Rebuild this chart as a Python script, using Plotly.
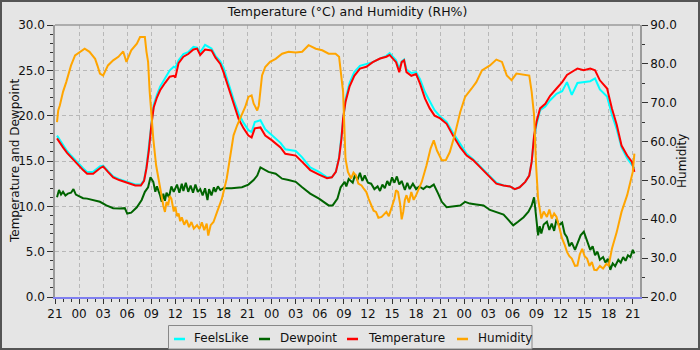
import pandas as pd
import plotly.graph_objects as go

# Observation period starts at 21:00; times are hours since then
start = pd.Timestamp("2021-06-20 21:00")

temp_hours = [0.25, 0.6, 1, 1.5, 2, 2.5, 3, 3.5, 4, 4.75,
              5.6, 6, 6.6, 7.25, 8, 9, 10, 10.7, 11.1, 11.4,
              11.7, 12, 12.3, 12.7, 13.1, 13.7, 14.3, 14.8, 15, 15.4,
              16, 16.6, 17.25, 17.7, 18.1, 18.7, 19.5, 20, 20.6, 21,
              21.6, 22.25, 22.9, 23.5, 24.1, 24.5, 24.9, 25.6, 26.2, 27,
              28.1, 28.7, 30, 30.8, 31.8, 32.9, 33.9, 34.5, 35, 35.4,
              35.7, 35.9, 36.2, 36.7, 37.3, 38, 38.8, 39.6, 40.5, 41.3,
              41.7, 42.1, 42.5, 42.9, 43.2, 43.5, 43.8, 44.4, 45, 45.5,
              46.1, 46.7, 47.3, 48, 48.8, 49.6, 50.5, 51.3, 52.1, 53,
              53.8, 54.2, 55, 55.9, 56.7, 57.3, 57.9, 58.6, 59.1, 59.4,
              59.7, 60, 60.45, 61.1, 61.7, 62.5, 63.2, 63.8, 64.4, 65.1,
              65.9, 66.7, 67.3, 67.9, 68.8, 69.4, 70, 70.6, 71.3, 71.9,
              72.2]

temperature = [17.5, 17.0, 16.5, 15.9, 15.4, 14.9, 14.5, 14.0, 13.6, 13.6,
               14.2, 14.4, 13.8, 13.2, 12.9, 12.6, 12.3, 12.3, 12.8, 14.2,
               16.2, 18.9, 20.9, 22.0, 22.8, 23.6, 24.3, 24.4, 24.2, 25.8,
               26.5, 26.8, 27.3, 27.4, 26.7, 27.3, 27.2, 26.4, 25.7, 24.8,
               23.1, 21.2, 19.6, 18.6, 17.8, 17.6, 18.6, 18.7, 17.8, 17.3,
               16.5, 15.8, 15.6, 14.9, 14.0, 13.5, 13.1, 13.2, 13.8, 15.3,
               17.5, 19.7, 21.5, 23.2, 24.4, 25.2, 25.4, 25.9, 26.3, 26.5,
               26.7, 26.3, 25.9, 24.8, 25.9, 26.1, 24.8, 24.4, 24.6, 23.5,
               21.9, 20.8, 20.0, 19.7, 19.1, 17.8, 16.5, 15.6, 15.1, 14.3,
               13.6, 13.2, 12.5, 12.3, 12.2, 11.9, 12.1, 12.7, 13.4, 14.9,
               17.8, 19.3, 20.8, 21.3, 22.2, 23.0, 23.7, 24.5, 24.8, 25.2,
               25.0, 25.2, 25.0, 23.9, 23.0, 20.8, 19.0, 16.7, 15.6, 14.9,
               13.8]

feels_like = [17.8, 17.3, 16.8, 16.1, 15.6, 15.1, 14.7, 14.2, 13.8, 13.8,
              14.4, 14.5, 13.9, 13.3, 13.0, 12.7, 12.4, 12.4, 12.9, 14.4,
              16.5, 19.2, 21.2, 22.3, 23.2, 24.1, 25.0, 25.4, 25.3, 26.1,
              26.8, 27.0, 27.6, 27.5, 27.0, 27.8, 27.4, 26.6, 26.0, 25.3,
              23.6, 21.8, 20.2, 19.2, 18.4, 18.2, 19.3, 19.5, 18.5, 17.9,
              17.0, 16.3, 16.1, 15.4, 14.3, 13.8, 13.2, 13.2, 13.8, 15.4,
              17.8, 20.0, 21.8, 23.6, 24.8, 25.5, 25.7, 25.9, 26.3, 26.6,
              26.9, 26.5, 26.1, 25.2, 26.0, 26.2, 25.1, 24.7, 24.8, 24.0,
              22.6, 21.6, 20.6, 19.9, 19.3, 18.1, 16.8, 15.8, 15.2, 14.4,
              13.7, 13.3, 12.6, 12.3, 12.2, 11.9, 12.1, 12.7, 13.4, 14.9,
              17.6, 19.0, 20.6, 21.0, 21.7, 22.4, 22.7, 23.7, 22.3, 23.6,
              23.7, 23.8, 24.1, 22.9, 22.1, 20.1, 18.5, 16.5, 15.3, 14.6,
              14.2]

dew_hours = [0.25, 0.5, 0.75, 1, 1.3, 1.6, 2, 2.3, 2.6, 3,
             3.5, 4, 4.75, 5.6, 6.4, 7.25, 8.1, 8.7, 9, 9.5,
             10.2, 10.8, 11.2, 11.6, 11.9, 12.25, 12.5, 12.7, 13.1, 13.3,
             13.5, 13.7, 13.9, 14.2, 14.5, 14.8, 15.2, 15.5, 15.8, 16,
             16.3, 16.6, 16.9, 17.2, 17.5, 17.8, 18.1, 18.4, 18.7, 19,
             19.2, 19.5, 19.8, 20, 20.3, 20.6, 21, 22, 23.3, 24.1,
             24.75, 25.2, 25.6, 26, 26.6, 27.5, 28.3, 29.1, 30, 30.8,
             31.8, 32.9, 33.7, 34.1, 34.6, 35.2, 35.6, 36.1, 36.3, 36.6,
             37.1, 37.4, 37.7, 38, 38.3, 38.6, 39, 39.4, 39.8, 40.2,
             40.5, 40.8, 41.1, 41.4, 41.7, 42, 42.3, 42.6, 42.9, 43.2,
             43.6, 43.9, 44.2, 44.6, 45, 45.4, 45.9, 46.3, 46.7, 47.2,
             47.75, 48.2, 48.8, 49.6, 50.5, 51.1, 51.7, 52.5, 53.4, 54.2,
             55, 55.9, 56.5, 57.1, 57.7, 58.4, 59, 59.4, 59.7, 59.95,
             60.2, 60.4, 60.6, 60.9, 61.3, 61.6, 61.9, 62.2, 62.5, 62.8,
             63.2, 63.5, 63.8, 64.1, 64.4, 64.8, 65.1, 65.5, 65.9, 66.3,
             66.7, 67, 67.3, 67.6, 67.9, 68.3, 68.6, 68.9, 69.2, 69.5,
             69.8, 70.2, 70.5, 70.8, 71.1, 71.4, 71.7, 72, 72.2]

dewpoint = [11.0, 11.8, 11.3, 11.6, 11.2, 11.4, 11.5, 11.9, 11.3, 11.1,
            10.9, 10.85, 10.7, 10.5, 10.1, 9.8, 9.75, 9.8, 9.2, 9.3,
            9.9, 10.7, 11.6, 12.1, 13.2, 12.7, 11.6, 12.2, 11.2, 10.5,
            11.4, 10.6, 11.5, 11.0, 12.2, 11.6, 12.4, 11.5, 12.5, 11.7,
            12.6, 11.6, 12.3, 11.5, 12.4, 11.6, 11.9, 11.2, 12.0, 10.7,
            11.9, 11.2, 12.1, 11.6, 12.2, 11.8, 12.0, 12.0, 12.1, 12.4,
            12.9, 13.4, 14.3, 14.1, 13.8, 13.6, 13.05, 12.9, 12.7, 12.1,
            11.4, 10.85, 10.3, 10.1, 10.1, 10.85, 12.1, 12.7, 12.2, 13.0,
            12.6, 13.5, 12.9, 13.7, 12.8, 13.4, 12.6, 12.5, 11.9, 12.2,
            11.7, 12.4, 12.0, 12.8, 12.3, 13.2, 12.6, 13.3, 12.4, 12.8,
            11.8, 12.6, 11.9, 12.5, 11.9, 12.2, 11.9, 12.2, 12.1, 12.4,
            11.4, 10.5, 9.9, 10.0, 10.1, 10.5, 10.3, 10.2, 10.1, 9.6,
            9.4, 9.1, 8.5, 7.9, 8.3, 8.8, 9.4, 10.1, 11.0, 9.0,
            6.8, 7.8, 7.0, 8.0, 8.3, 7.4, 8.1, 7.3, 8.6, 7.9,
            8.2, 7.0, 6.6, 5.6, 6.0, 5.2, 5.8, 6.8, 7.2, 6.3,
            5.2, 5.6, 4.6, 5.0, 4.1, 4.4, 3.8, 4.2, 3.0, 3.7,
            3.4, 4.1, 3.8, 4.4, 4.0, 4.6, 4.4, 5.2, 4.8]

hum_hours = [0.25, 0.4, 0.6, 0.8, 1, 1.4, 1.7, 2, 2.5, 3.1,
             3.7, 4.3, 5, 5.3, 5.6, 6, 6.6, 7.25, 7.9, 8.5,
             8.9, 9.5, 10.2, 10.6, 11.2, 11.4, 11.6, 11.8, 12.05, 12.25,
             12.6, 12.9, 13.1, 13.3, 13.5, 13.7, 13.9, 14.1, 14.3, 14.5,
             14.8, 15, 15.2, 15.4, 15.6, 15.8, 16.1, 16.4, 16.7, 17,
             17.3, 17.7, 18, 18.3, 18.6, 18.9, 19.1, 19.4, 19.75, 20.2,
             20.8, 21.4, 21.8, 22.25, 22.7, 23.3, 23.7, 24.1, 24.5, 24.75,
             25.2, 25.4, 25.8, 26.2, 26.8, 27.5, 28.3, 29.1, 30, 30.8,
             31.6, 32.5, 33.3, 34.1, 34.96, 35.4, 35.7, 35.9, 36.05, 36.2,
             36.5, 36.9, 37.2, 37.5, 37.8, 38.2, 38.5, 38.8, 39.1, 39.4,
             39.7, 40, 40.3, 40.7, 41, 41.3, 41.6, 41.9, 42.1, 42.3,
             42.5, 42.75, 43, 43.2, 43.4, 43.6, 43.8, 44.1, 44.4, 44.7,
             45, 45.3, 45.7, 46.3, 46.8, 47.2, 47.6, 48.2, 48.7, 49.2,
             49.8, 50.5, 51.1, 51.9, 52.5, 53.2, 53.8, 54.2, 55, 55.7,
             56.3, 56.9, 57.5, 58.4, 59.1, 59.4, 59.7, 59.95, 60.2, 60.6,
             60.9, 61.3, 61.6, 61.9, 62.2, 62.5, 62.8, 63.2, 63.5, 63.8,
             64.1, 64.4, 64.8, 65.1, 65.4, 65.7, 66, 66.3, 66.6, 66.9,
             67.2, 67.5, 67.9, 68.3, 68.7, 69, 69.4, 70, 70.6, 71.3,
             71.7, 72, 72.2]

humidity = [65.0, 68.0, 69.3, 71.0, 72.8, 75.3, 77.5, 79.6, 82.2, 83.1,
            83.9, 83.1, 81.3, 79.5, 77.5, 77.0, 79.6, 80.9, 81.8, 83.2,
            80.5, 83.5, 85.2, 86.9, 86.9, 83.1, 80.5, 72.8, 65.9, 60.7,
            53.9, 50.5, 47.5, 46.2, 43.5, 41.9, 44.5, 43.6, 46.0, 45.3,
            42.0, 43.2, 40.8, 41.5, 39.5, 40.5, 38.6, 39.8, 38.0, 39.3,
            37.6, 38.5, 37.5, 39.2, 37.2, 38.9, 35.8, 38.5, 39.3, 41.9,
            45.3, 50.5, 55.6, 61.6, 64.2, 66.8, 68.9, 71.5, 71.9, 69.8,
            68.0, 69.3, 77.0, 79.2, 80.5, 81.3, 82.6, 83.1, 82.9, 83.1,
            84.8, 83.9, 83.5, 82.6, 82.6, 81.8, 77.0, 72.8, 64.2, 55.6,
            52.2, 50.5, 52.0, 51.3, 49.2, 48.7, 47.8, 47.0, 45.2, 43.6,
            42.2, 41.9, 40.4, 40.6, 41.2, 41.9, 40.8, 42.7, 44.0, 45.3,
            47.5, 47.0, 44.0, 40.0, 41.9, 45.0, 46.2, 44.3, 47.0, 45.0,
            46.2, 47.5, 49.6, 53.9, 58.2, 60.3, 57.7, 55.2, 55.2, 57.3,
            61.6, 67.6, 71.5, 73.6, 75.3, 78.3, 79.2, 79.6, 81.1, 80.5,
            77.0, 75.8, 77.5, 77.2, 77.0, 72.8, 66.8, 53.9, 45.3, 40.2,
            42.0, 40.6, 42.5, 40.2, 41.5, 40.6, 38.0, 35.0, 33.5, 31.6,
            30.5, 29.9, 28.0, 28.1, 31.0, 32.4, 30.5, 29.9, 28.0, 29.0,
            27.0, 26.9, 28.0, 27.3, 28.5, 28.1, 32.4, 36.7, 41.9, 46.2,
            49.6, 52.2, 56.9]

series_names = ["FeelsLike", "Dewpoint", "Temperature", "Humidity"]
series_colors = ["#00ffff", "#006400", "#ff0000", "#ffa500"]

x_end_hours = 72.9


def to_time(hours):
    return [start + pd.Timedelta(hours=h) for h in hours]


FONT = "DejaVu Sans"
BG = "#e5e5e5"
LW = 2
GRID = dict(showgrid=True, gridcolor="#b8b8b8", griddash="4px,3px", gridwidth=1)

fig = go.Figure()
fig.add_trace(go.Scatter(x=to_time(temp_hours), y=feels_like, name=series_names[0],
                         mode="lines", line=dict(color=series_colors[0], width=LW)))
fig.add_trace(go.Scatter(x=to_time(dew_hours), y=dewpoint, name=series_names[1],
                         mode="lines", line=dict(color=series_colors[1], width=LW)))
fig.add_trace(go.Scatter(x=to_time(temp_hours), y=temperature, name=series_names[2],
                         mode="lines", line=dict(color=series_colors[2], width=LW)))
fig.add_trace(go.Scatter(x=to_time(hum_hours), y=humidity, name=series_names[3],
                         mode="lines", line=dict(color=series_colors[3], width=LW),
                         yaxis="y2"))

# plot-area geometry in pixels
L, R, T, B = 55, 60, 25, 53
W, H = 700, 350
PW, PH = W - L - R, H - T - B


def px_x(px):
    return (px - L) / PW


def px_y(py):
    return (H - B - py) / PH


shapes = [
    # top spine
    dict(type="line", xref="paper", yref="paper", x0=0, x1=1, y0=1, y1=1,
         line=dict(color="#9a9a9a", width=1.5)),
    # outer frame
    dict(type="rect", xref="paper", yref="paper",
         x0=px_x(1), x1=px_x(699), y0=px_y(349), y1=px_y(1),
         line=dict(color="#555555", width=2)),
    # legend box
    dict(type="rect", xref="paper", yref="paper",
         x0=px_x(168.5), x1=px_x(532), y0=px_y(349), y1=px_y(325.5),
         line=dict(color="#888888", width=1), fillcolor=BG),
]

annotations = []
legend_sample_x = [174, 259, 347, 457]
legend_text_x = [192, 278, 366, 476]
for name, color, sx, tx in zip(series_names, series_colors, legend_sample_x, legend_text_x):
    shapes.append(dict(type="line", xref="paper", yref="paper",
                       x0=px_x(sx), x1=px_x(sx + 11), y0=px_y(339), y1=px_y(339),
                       line=dict(color=color, width=2.5)))
    annotations.append(dict(text=name, xref="paper", yref="paper",
                            x=px_x(tx), y=px_y(338), xanchor="left", yanchor="middle",
                            showarrow=False, font=dict(family=FONT, size=12, color="#111")))

# axis titles placed by pixel position
annotations.append(dict(text="Temperature and Dewpoint", xref="paper", yref="paper",
                        x=px_x(15), y=0.5, xanchor="center", yanchor="middle", textangle=-90,
                        showarrow=False, font=dict(family=FONT, size=12, color="#111")))
annotations.append(dict(text="Humidity", xref="paper", yref="paper",
                        x=px_x(682), y=0.5, xanchor="center", yanchor="middle", textangle=-90,
                        showarrow=False, font=dict(family=FONT, size=12, color="#111")))

fig.update_layout(
    width=W, height=H,
    margin=dict(l=L, r=R, t=T, b=B, autoexpand=False),
    paper_bgcolor=BG, plot_bgcolor=BG,
    showlegend=False,
    font=dict(family=FONT, size=12, color="#111"),
    title=dict(text="Temperature (°C) and Humidity (RH%)", x=0.5, xref="paper",
               y=1 - 12 / H, yanchor="middle", font=dict(family=FONT, size=12.5, color="#111")),
    xaxis=dict(
        type="date", automargin=False,
        range=[start, start + pd.Timedelta(hours=x_end_hours)],
        tick0=start, dtick=3 * 3600 * 1000, tickformat="%H",
        ticks="outside", ticklen=5, tickcolor="#333", tickwidth=1,
        minor=dict(dtick=3600 * 1000, ticks="outside", ticklen=3, tickcolor="#333", showgrid=False),
        showline=True, linecolor="#7f7ff0", linewidth=2,
        zeroline=False, tickfont=dict(size=12), **GRID,
    ),
    yaxis=dict(
        automargin=False,
        range=[0, 30], dtick=5, tickformat=".1f",
        ticks="outside", ticklen=6, tickcolor="#333",
        minor=dict(dtick=1, ticks="outside", ticklen=3, tickcolor="#333", showgrid=False),
        showline=True, linecolor="#9a9a9a", linewidth=1.5, zeroline=False,
        tickfont=dict(size=12), **GRID,
    ),
    yaxis2=dict(
        automargin=False,
        range=[20, 90], dtick=10, tickformat=".1f", overlaying="y", side="right",
        ticks="outside", ticklen=6, tickcolor="#333",
        minor=dict(dtick=5, ticks="outside", ticklen=3, tickcolor="#333"),
        showgrid=False, showline=True, linecolor="#9a9a9a", linewidth=1.5, zeroline=False,
        tickfont=dict(size=12),
    ),
    shapes=shapes,
    annotations=annotations,
)

fig.write_html("out.html")
